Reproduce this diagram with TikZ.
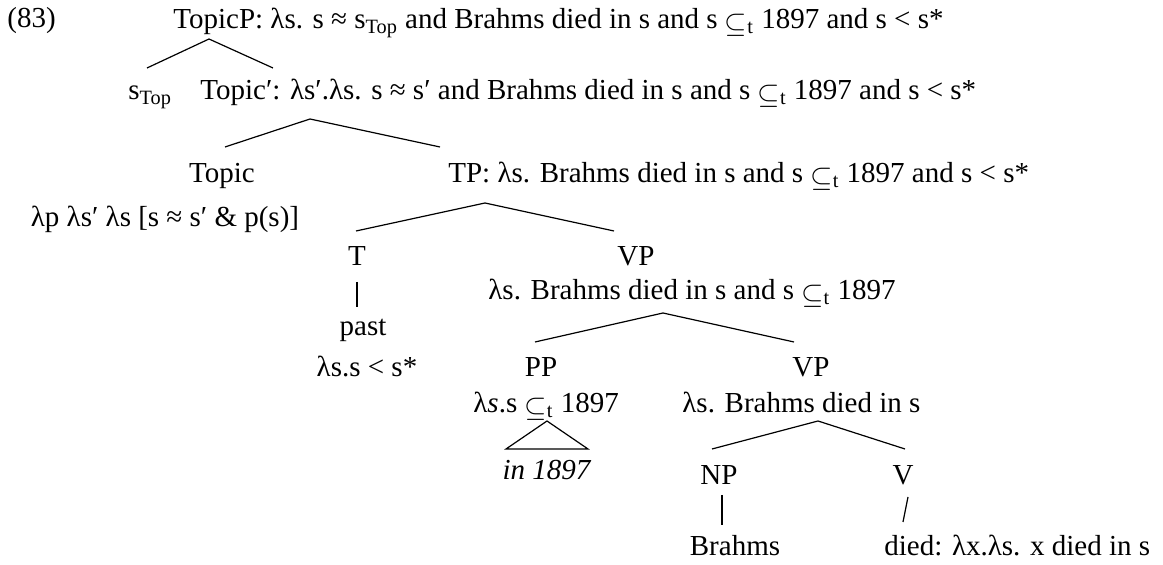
\documentclass[tikz,border=0pt]{standalone}
\usepackage{fontspec}
\setmainfont{Liberation Serif}
\newcommand{\subt}{\raisebox{-0.25ex}{$\subseteq$}\textsubscript{t}}
\newcommand{\prm}{\char"2032}
\begin{document}
\begin{tikzpicture}[x=0.5pt,y=-0.5pt,
  lbl/.style={inner sep=0pt,font=\fontsize{14.5}{17}\selectfont},
  br/.style={line width=0.6pt}]
\useasboundingbox (0,0) rectangle (1163,565);
% labels
\node[lbl,anchor=base west] (n83) at (7,28) {(83)};
\node[lbl,anchor=base west] (topicP) at (173,29) {TopicP: λs. s ≈ s\textsubscript{Top} and Brahms died in s and s \subt{} 1897 and s < s*};
\node[lbl,anchor=base west] (stop) at (128,100) {s\textsubscript{Top}};
\node[lbl,anchor=base west] (topicbar) at (200,100) {Topic\prm: λs\prm.λs. s ≈ s\prm{} and Brahms died in s and s \subt{} 1897 and s < s*};
\node[lbl,anchor=base] (topic) at (222,183) {Topic};
\node[lbl,anchor=base] (topicsem) at (165,227) {λp λs\prm{} λs [s ≈ s\prm{} \& p(s)]};
\node[lbl,anchor=base west] (tp) at (448,183) {TP: λs. Brahms died in s and s \subt{} 1897 and s < s*};
\node[lbl,anchor=base] (t) at (357,266) {T};
\node[lbl,anchor=base] (vp) at (636,266) {VP};
\node[lbl,anchor=base west] (vpsem) at (488,300) {λs. Brahms died in s and s \subt{} 1897};
\node[lbl,anchor=base] (past) at (363,336) {past};
\node[lbl,anchor=base] (pastsem) at (367,377) {λs.s < s*};
\node[lbl,anchor=base] (pp) at (541,377) {PP};
\node[lbl,anchor=base] (vp2) at (811,377) {VP};
\node[lbl,anchor=base west] (ppsem) at (473,413) {λ\textit{s}.s \subt{} 1897};
\node[lbl,anchor=base west] (vp2sem) at (682,413) {λs. Brahms died in s};
\node[lbl,anchor=base] (in) at (547,480) {\textit{in 1897}};
\node[lbl,anchor=base] (np) at (719,485) {NP};
\node[lbl,anchor=base] (v) at (903,485) {V};
\node[lbl,anchor=base] (brahms) at (735,556) {Brahms};
\node[lbl,anchor=base west] (died) at (884,556) {died: λx.λs. x died in s};
% branch points
\coordinate (a0) at (209,39); \coordinate (a0l) at (147,68); \coordinate (a0r) at (273,68);
\coordinate (a1) at (310,119); \coordinate (a1l) at (225,147); \coordinate (a1r) at (440,147);
\coordinate (a2) at (485,203); \coordinate (a2l) at (356,231); \coordinate (a2r) at (614,231);
\coordinate (a3) at (663,313); \coordinate (a3l) at (535,342); \coordinate (a3r) at (794,342);
\coordinate (a4) at (547,421); \coordinate (a4l) at (506,449); \coordinate (a4r) at (588,449);
\coordinate (a5) at (818,421); \coordinate (a5l) at (712,449); \coordinate (a5r) at (905,449);
\coordinate (b1t) at (357,282); \coordinate (b1b) at (357,307);
\coordinate (b2t) at (722,495); \coordinate (b2b) at (722,525);
\coordinate (b3t) at (908,497); \coordinate (b3b) at (903,522);
\draw[br] (a0l) -- (a0) -- (a0r);
\draw[br] (a1l) -- (a1) -- (a1r);
\draw[br] (a2l) -- (a2) -- (a2r);
\draw[br] (a3l) -- (a3) -- (a3r);
\draw[br] (a4l) -- (a4) -- (a4r) -- cycle;
\draw[br] (a5l) -- (a5) -- (a5r);
\draw[br] (b1t) -- (b1b);
\draw[br] (b2t) -- (b2b);
\draw[br] (b3t) -- (b3b);
\end{tikzpicture}
\end{document}
